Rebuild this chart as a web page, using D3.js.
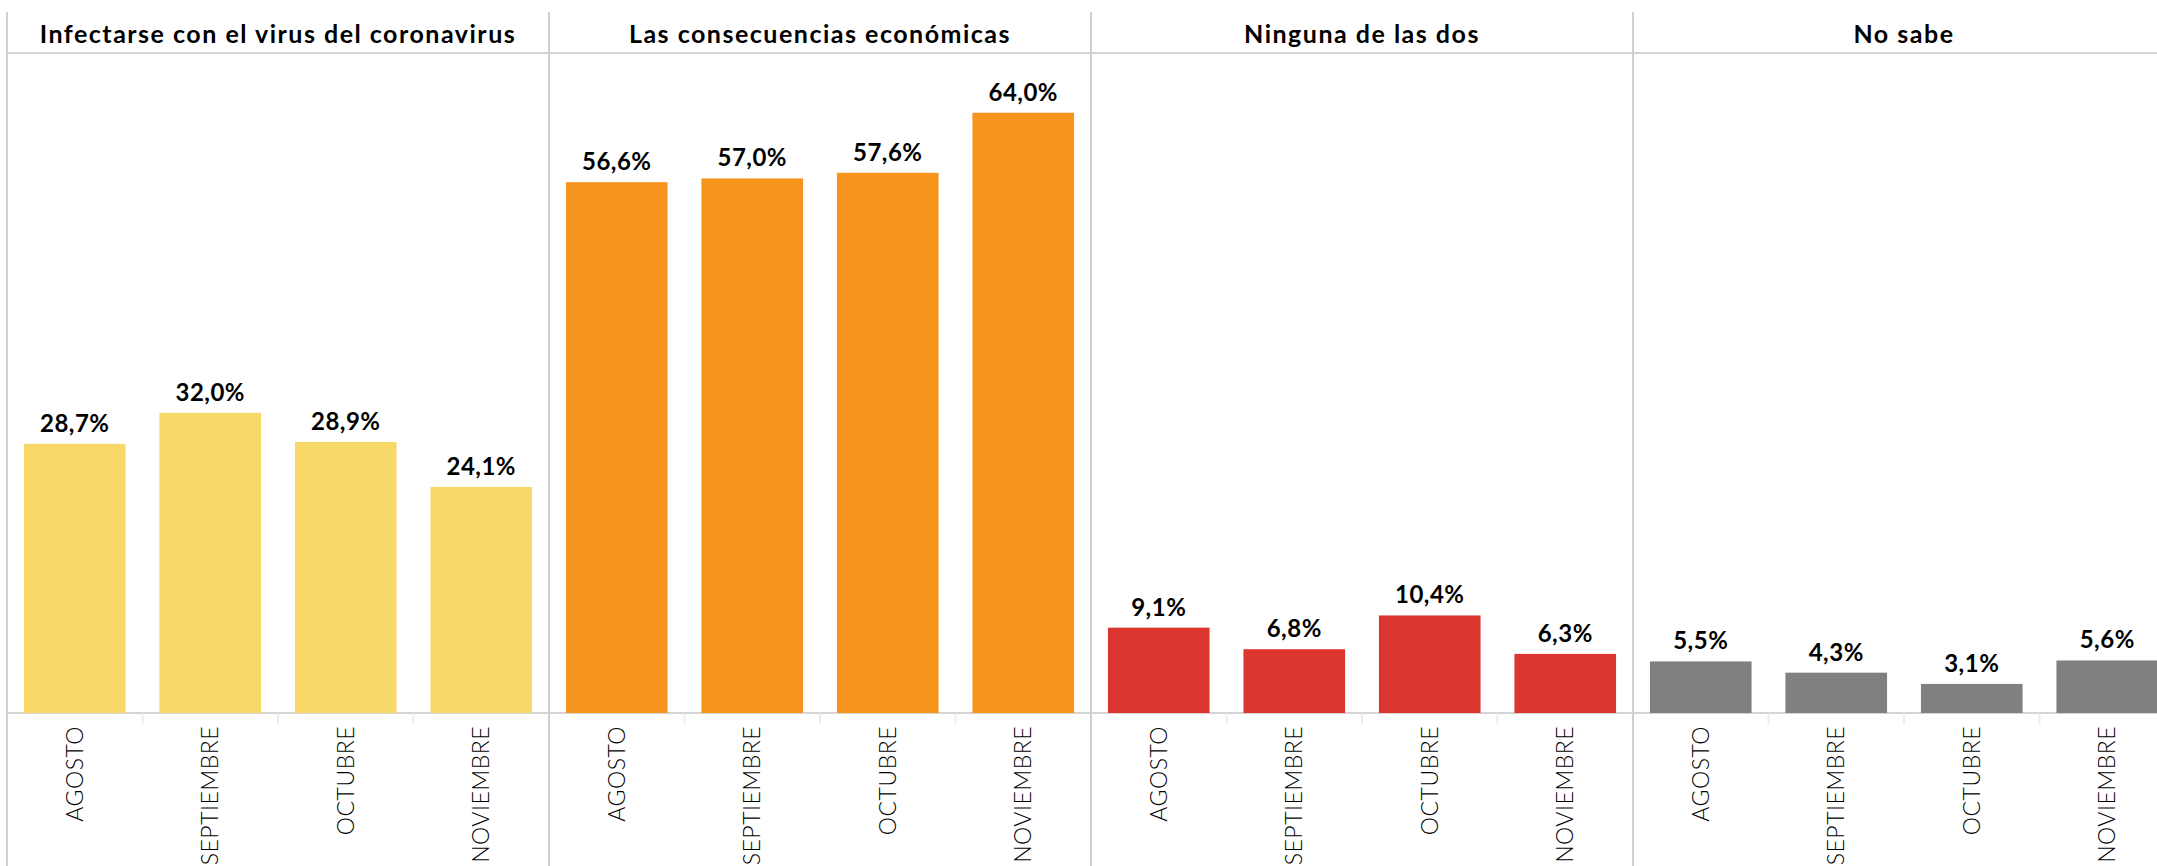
<!DOCTYPE html>
<html>
<head>
<meta charset="utf-8">
<script src="https://cdn.jsdelivr.net/npm/d3@7"></script>
<style>
  html, body { margin: 0; padding: 0; background: #fff; overflow: hidden; }
  svg { display: block; }
</style>
</head>
<body>
<div id="chart"></div>
<script>
// Datos
const panels = ["Infectarse con el virus del coronavirus", "Las consecuencias económicas", "Ninguna de las dos", "No sabe"];
const months = ["AGOSTO", "SEPTIEMBRE", "OCTUBRE", "NOVIEMBRE"];
const infectarse = [28.7, 32.0, 28.9, 24.1];
const economicas = [56.6, 57.0, 57.6, 64.0];
const ninguna = [9.1, 6.8, 10.4, 6.3];
const noSabe = [5.5, 4.3, 3.1, 5.6];
const colors = ["#F9D86A", "#F7941D", "#DC3530", "#808080"];

const series = [infectarse, economicas, ninguna, noSabe];

// Dimensiones
const width = 2157;
const height = 866;
const left = 7;
const panelWidth = 542;
const headerY = 53;
const baseY = 713;

const svg = d3.select("#chart").append("svg")
    .attr("width", width)
    .attr("height", height);

// Escalas
const px = d3.scaleBand().domain(panels).range([left, left + panelWidth * panels.length]);
const x = d3.scaleBand().domain(months).range([0, panelWidth]).paddingInner(0.25).paddingOuter(0.125);
const y = d3.scaleLinear().domain([0, 70]).range([baseY, 56.5]);

const fmt = d3.formatLocale({ decimal: ",", thousands: ".", grouping: [3], currency: ["", "€"] }).format(".1f");

// Línea del encabezado y línea base
svg.append("line")
    .attr("x1", left).attr("x2", width)
    .attr("y1", headerY).attr("y2", headerY)
    .attr("stroke", "#d4d4d4").attr("stroke-width", 2);

svg.append("line")
    .attr("x1", left).attr("x2", width)
    .attr("y1", baseY).attr("y2", baseY)
    .attr("stroke", "#d4d4d4").attr("stroke-width", 2);

panels.forEach((name, i) => {
    const g = svg.append("g").attr("transform", `translate(${px(name)},0)`);
    const data = months.map((m, j) => ({ month: m, value: series[i][j] }));

    // Separador vertical
    g.append("line")
        .attr("x1", 0).attr("x2", 0)
        .attr("y1", 12).attr("y2", height)
        .attr("stroke", "#d0d0d0").attr("stroke-width", 2);

    // Título del panel
    g.append("text")
        .attr("x", panelWidth / 2)
        .attr("y", 43)
        .attr("text-anchor", "middle")
        .attr("font-family", "Lato, 'Noto Sans', sans-serif")
        .attr("font-weight", "bold")
        .attr("font-size", 25)
        .attr("letter-spacing", 1.5)
        .attr("fill", "#000")
        .text(name);

    // Marcas entre meses
    g.selectAll(".tick-mark").data(months.slice(1)).enter().append("line")
        .attr("class", "tick-mark")
        .attr("x1", d => x(d) - x.step() * x.paddingInner() / 2)
        .attr("x2", d => x(d) - x.step() * x.paddingInner() / 2)
        .attr("y1", baseY).attr("y2", baseY + 11)
        .attr("stroke", "#ececec").attr("stroke-width", 2);

    // Barras
    g.selectAll(".bar").data(data).enter().append("rect")
        .attr("class", "bar")
        .attr("x", d => x(d.month))
        .attr("y", d => y(d.value))
        .attr("width", x.bandwidth())
        .attr("height", d => baseY - y(d.value))
        .attr("fill", colors[i]);

    // Etiquetas de valor
    g.selectAll(".value").data(data).enter().append("text")
        .attr("class", "value")
        .attr("x", d => x(d.month) + x.bandwidth() / 2)
        .attr("y", d => y(d.value) - 12)
        .attr("text-anchor", "middle")
        .attr("font-family", "Lato, 'Noto Sans', sans-serif")
        .attr("font-weight", "bold")
        .attr("font-size", 24)
        .attr("letter-spacing", 0.5)
        .attr("fill", "#000")
        .text(d => fmt(d.value) + "%");

    // Etiquetas de meses (verticales)
    g.selectAll(".month").data(months).enter().append("text")
        .attr("class", "month")
        .attr("transform", d => `translate(${x(d) + x.bandwidth() / 2},${baseY + 13}) rotate(-90)`)
        .attr("text-anchor", "end")
        .attr("dy", "0.35em")
        .attr("font-family", "Lato, 'Noto Sans', sans-serif")
        .attr("font-weight", 300)
        .attr("font-size", 23)
        .attr("letter-spacing", 0.5)
        .attr("fill", "#000")
        .text(d => d);
});
</script>
</body>
</html>
